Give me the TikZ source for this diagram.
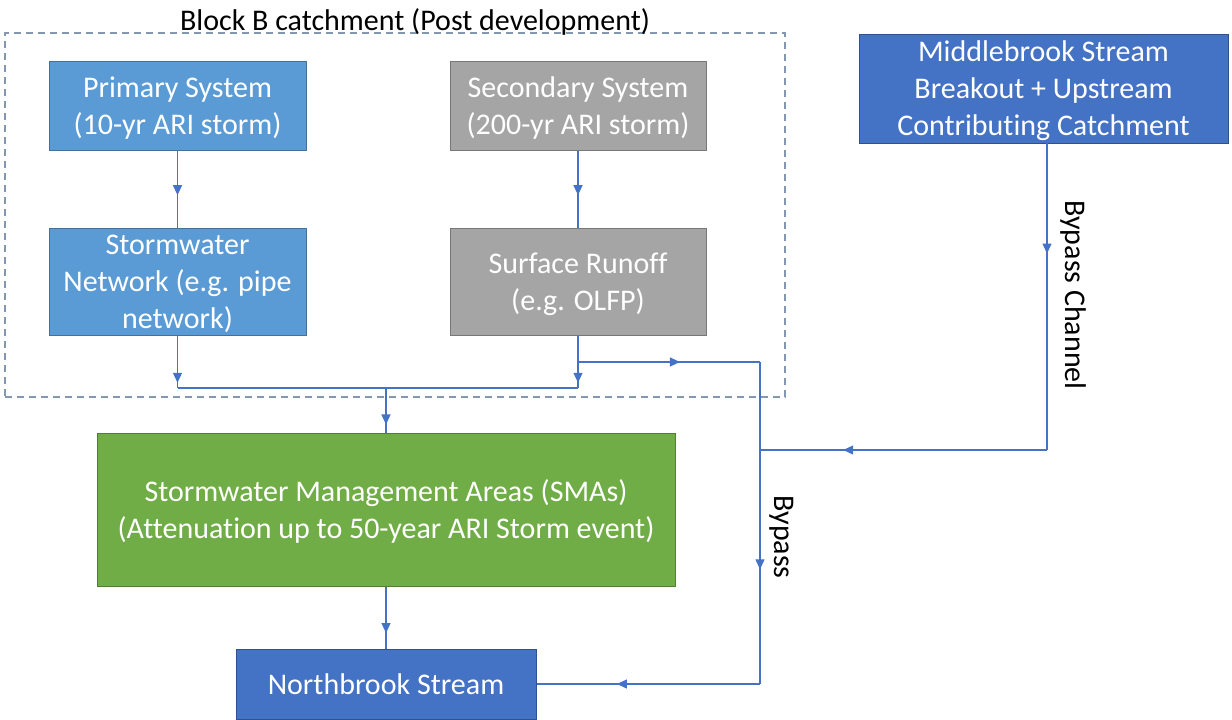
\documentclass[tikz,border=0pt]{standalone}
\usepackage{fontspec}
\setmainfont{Carlito}[Ligatures=NoCommon]
\usetikzlibrary{arrows.meta,decorations.markings}
\definecolor{bl}{HTML}{5B9BD5}
\definecolor{blb}{HTML}{41719C}
\definecolor{db}{HTML}{4472C4}
\definecolor{dbb}{HTML}{2F528F}
\definecolor{gr}{HTML}{A5A5A5}
\definecolor{grb}{HTML}{787878}
\definecolor{gn}{HTML}{70AD47}
\definecolor{gnb}{HTML}{507E32}
\definecolor{ln}{HTML}{4472C4}
\definecolor{dashc}{HTML}{8497B0}
\newcommand\lst{\rule[-6pt]{0pt}{25.5pt}}
\newcommand\fst{\rule[-6pt]{0pt}{32.5pt}}
\tikzset{
  box/.style={draw, line width=1pt, text=white, align=center, inner sep=0pt,
    font=\fontsize{30}{37}\selectfont},
  lab/.style={text=black, inner sep=0pt, font=\fontsize{30}{37}\selectfont},
  conn/.style={draw=ln, line width=1.2pt},
  midarrow/.style={decoration={markings, mark=at position #1 with {\arrow[ln]{Triangle[length=10pt,width=9pt]}}}, postaction={decorate}},
  blockbox/.style={draw=dashc, line width=1.6pt, dash pattern=on 7pt off 5pt, inner sep=0pt}
}
\begin{document}
\begin{tikzpicture}[x=1pt,y=-1pt]
\useasboundingbox (0,0) rectangle (1232,720);
\node[blockbox, minimum width=780, minimum height=364] (blk) at (395,215) {};
\node[lab] (title) at (415,21.5) {Block B catchment (Post development)};

\node[box, fill=bl, draw=blb, minimum width=257, minimum height=89] (prim) at (177.5,105.5) {\fst Primary System\\\lst(10-yr ARI storm)};
\node[box, fill=gr, draw=grb, minimum width=256, minimum height=89] (sec) at (578,105.5) {\fst Secondary System\\\lst(200-yr ARI storm)};
\node[box, fill=bl, draw=blb, minimum width=257, minimum height=107] (swn) at (177.5,281.5) {\fst Stormwater\\\lst Network (e.g. pipe\\\lst network)};
\node[box, fill=gr, draw=grb, minimum width=256, minimum height=107] (sr) at (578,281.5) {\fst Surface Runoff\\\lst(e.g. OLFP)};
\node[box, fill=db, draw=dbb, minimum width=369, minimum height=109] (mid) at (1043.5,88.5) {\fst Middlebrook Stream\\\lst Breakout + Upstream\\\lst Contributing Catchment};
\node[box, fill=gn, draw=gnb, minimum width=578, minimum height=153] (sma) at (386,509.5) {\fst Stormwater Management Areas (SMAs)\\\lst(Attenuation up to 50-year ARI Storm event)};
\node[box, fill=db, draw=dbb, minimum width=300, minimum height=70] (nb) at (386,684) {\fst Northbrook Stream};

\coordinate (jl) at (177.5,388);
\coordinate (jr) at (578,388);
\coordinate (jm) at (386,388);
\coordinate (br) at (578,362);
\coordinate (bt) at (760,362);
\coordinate (bm) at (760,450);
\coordinate (bb) at (760,684);
\coordinate (mc) at (1047,450);
\coordinate (mt) at (1047,143);

\draw[conn, midarrow=0.58] (prim) -- (swn);
\draw[conn, midarrow=0.58] (sec) -- (sr);
\draw[conn, midarrow=0.9] (swn) -- (jl);
\draw[conn, midarrow=0.9] (sr) -- (jr);
\draw[conn] (jl) -- (jr);
\draw[conn, midarrow=0.82] (jm) -- (sma);
\draw[conn, midarrow=0.56] (br) -- (bt);
\draw[conn] (bt) -- (bm);
\draw[conn, midarrow=0.51] (bm) -- (bb);
\draw[conn, midarrow=0.64] (bb) -- (nb);
\draw[conn, midarrow=0.36] (mt) -- (mc);
\draw[conn, midarrow=0.71] (mc) -- (bm);
\draw[conn, midarrow=0.75] (sma) -- (nb);

\node[lab, rotate=-90] (bc) at (1073,295) {Bypass Channel};
\node[lab, rotate=-90] (bp) at (782,537) {Bypass};
\end{tikzpicture}
\end{document}
